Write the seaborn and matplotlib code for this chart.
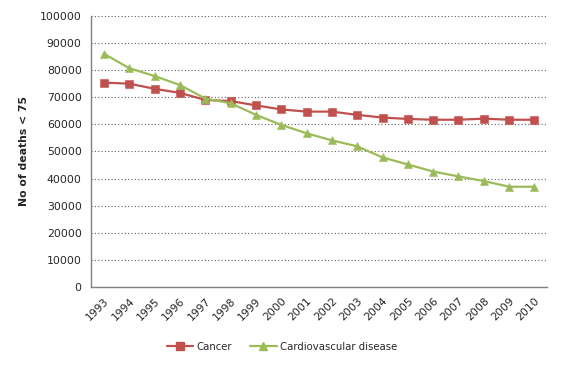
import numpy as np
import pandas as pd
import matplotlib
matplotlib.use("Agg")
import matplotlib.pyplot as plt
import seaborn as sns

years = list(range(1993, 2011))
cancer = [75400, 75000, 73100, 71600, 69000, 68600, 67000, 65500, 64700,
          64700, 63500, 62500, 62000, 61700, 61700, 62100, 61700, 61700]
cardio = [86000, 80700, 77800, 74500, 69500, 67800, 63500, 59800, 56700,
          54100, 51900, 47800, 45200, 42600, 40800, 39100, 37000, 37000]
series_names = ["Cancer", "Cardiovascular disease"]
colors = ["#C0504D", "#9BBB59"]

df = pd.concat([
    pd.DataFrame({"year": years, "deaths": cancer, "series": series_names[0]}),
    pd.DataFrame({"year": years, "deaths": cardio, "series": series_names[1]}),
], ignore_index=True)

sns.set_style("white")
plt.rcParams["font.family"] = ["DejaVu Sans"]

fig = plt.figure(figsize=(5.64, 3.69), dpi=100)
ax = fig.add_axes([0.162, 0.222, 0.808, 0.735])

sns.lineplot(data=df, x="year", y="deaths", hue="series", style="series",
             palette=colors, markers=["s", "^"], dashes=False,
             markersize=6, linewidth=1.6, markeredgewidth=0.8,
             ax=ax, legend=False)
for line, c in zip(ax.lines, colors):
    line.set_markeredgecolor(matplotlib.colors.to_rgba(c, 0.55))

ax.set_xlim(1992.5, 2010.5)
ax.set_ylim(0, 100000)
ax.set_yticks(np.arange(0, 100001, 10000))
ax.set_xticks(years)
ax.set_xticklabels([str(y) for y in years], rotation=45, ha="right",
                   rotation_mode="anchor", fontsize=7.8)
ax.tick_params(axis="y", labelsize=7.8, length=4, color="#808080", pad=3)
ax.tick_params(axis="x", length=0, pad=6)
ax.yaxis.grid(True, linestyle=(0, (1, 2)), color="#606060", linewidth=0.8)
ax.set_axisbelow(True)
for s in ["top", "right"]:
    ax.spines[s].set_visible(False)
for s in ["left", "bottom"]:
    ax.spines[s].set_color("#808080")
    ax.spines[s].set_linewidth(1.0)

ax.set_xlabel("")
ax.set_ylabel("No of deaths < 75", fontsize=7.8, fontweight="bold", labelpad=8)

handles = [plt.Line2D([], [], color=colors[0], marker="s", markersize=6,
                      linewidth=1.6),
           plt.Line2D([], [], color=colors[1], marker="^", markersize=6,
                      linewidth=1.6)]
fig.legend(handles, series_names, loc="center", bbox_to_anchor=(0.5, 0.06),
           ncol=2, frameon=False, fontsize=7.3, handlelength=2.6,
           columnspacing=1.8, handletextpad=0.3)

fig.savefig("out.png", dpi=100)
